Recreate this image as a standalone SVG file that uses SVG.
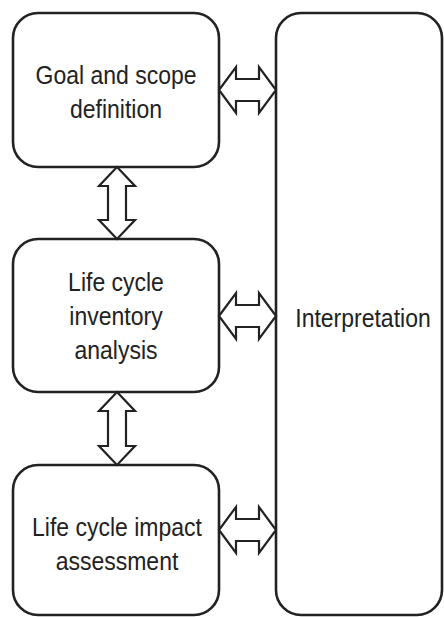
<svg xmlns="http://www.w3.org/2000/svg" width="444" height="617" viewBox="0 0 444 617">
<style>
.box{fill:#fff;stroke:#222;stroke-width:2.6}
.arr{fill:#fff;stroke:#222;stroke-width:2.2;stroke-linejoin:miter}
.t{font-family:"Liberation Sans",Arial,sans-serif;font-size:23px;fill:#222;text-anchor:middle}
</style>
<rect width="444" height="617" fill="#fff"/>
<g id="goal">
<rect class="box" x="13" y="13" width="206" height="154" rx="25" ry="25"/>
<text class="t" transform="translate(116 84) scale(1 1.1)">Goal and scope</text>
<text class="t" transform="translate(116 118) scale(1 1.1)">definition</text>
</g>
<g id="inventory">
<rect class="box" x="13" y="239" width="206" height="153" rx="25" ry="25"/>
<text class="t" transform="translate(116 291) scale(1 1.1)">Life cycle</text>
<text class="t" transform="translate(116 325) scale(1 1.1)">inventory</text>
<text class="t" transform="translate(116 359) scale(1 1.1)">analysis</text>
</g>
<g id="impact">
<rect class="box" x="13" y="465" width="206" height="150" rx="25" ry="25"/>
<text class="t" transform="translate(117 536) scale(1 1.1)">Life cycle impact</text>
<text class="t" transform="translate(117 570) scale(1 1.1)">assessment</text>
</g>
<g id="interpretation">
<rect class="box" x="276" y="13" width="166" height="602" rx="25" ry="25"/>
<text class="t" transform="translate(363 327) scale(1 1.1)">Interpretation</text>
</g>
<g id="connectors">
<path class="arr" d="M219,90 L236,67 L236,79 L259,79 L259,67 L276,90 L259,113 L259,101 L236,101 L236,113 Z"/>
<path class="arr" d="M219,316 L236,293 L236,305 L259,305 L259,293 L276,316 L259,339 L259,327 L236,327 L236,339 Z"/>
<path class="arr" d="M219,530 L236,507 L236,519 L259,519 L259,507 L276,530 L259,553 L259,541 L236,541 L236,553 Z"/>
<path class="arr" d="M117,167 L135,186 L126,186 L126,220 L135,220 L117,239 L99,220 L108,220 L108,186 L99,186 Z"/>
<path class="arr" d="M117,392 L135,411 L126,411 L126,446 L135,446 L117,465 L99,446 L108,446 L108,411 L99,411 Z"/>
</g>
</svg>
